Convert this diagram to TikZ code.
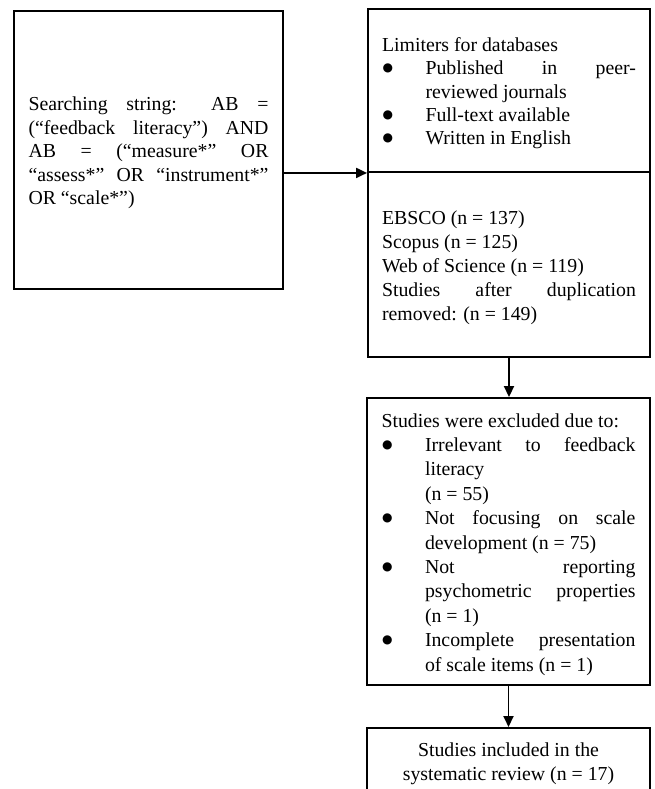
\documentclass[tikz,border=0pt]{standalone}
\usepackage{fontspec}
\setmainfont{Liberation Serif}
\newfontfamily\symfont{DejaVu Sans}
\usetikzlibrary{arrows.meta}
\newcommand\boxfont{\fontsize{19.8}{23.4}\selectfont\parindent=0pt\tolerance=10000\hbadness=10000\hyphenpenalty=10000}
\newcommand\topgap{\rule{0pt}{19.5pt}}
\newcommand\bitem{\hangindent=43.5pt\hangafter=0\leavevmode\llap{\makebox[43.5pt][l]{\hspace{0.5pt}\raisebox{3pt}{\symfont\fontsize{12}{12}\selectfont ●}}}}
\tikzset{
  box/.style={draw, line width=1.9pt, inner sep=0pt, font=\boxfont, align=justify},
  arr/.style={line width=1.9pt, -{Triangle[length=11pt,width=10pt]}},
}
\begin{document}
\begin{tikzpicture}[x=1pt,y=-1pt]
  \useasboundingbox (0,0) rectangle (655,789);
  \node[box, text width=240pt, minimum width=269pt, minimum height=278pt] (search) at (148.5,150)
    {\topgap Searching string: AB =\linebreak (“feedback literacy”) AND\linebreak AB = (“measure*” OR\linebreak “assess*” OR “instrument*”\linebreak OR “scale*”)\par};
  \node[box, text width=254pt, minimum width=282pt, minimum height=163pt] (lim) at (509,90.5)
    {\topgap Limiters for databases\par
     \bitem Published in peer-\linebreak reviewed journals\par
     \bitem Full-text available\par
     \bitem Written in English\par};
  \node[box, font={\boxfont\baselineskip=24pt}, text width=254pt, minimum width=282pt, minimum height=185pt] (db) at (509,264.5)
    {\topgap EBSCO (n = 137)\par
     Scopus (n = 125)\par
     Web of Science (n = 119)\par
     Studies after duplication\linebreak removed: (n = 149)\par};
  \node[box, font={\boxfont\baselineskip=24.4pt}, text width=254pt, minimum width=283pt, minimum height=287pt] (excl) at (508.5,541.5)
    {\topgap Studies were excluded due to:\par
     \bitem Irrelevant to feedback\linebreak literacy\newline (n = 55)\par
     \bitem Not focusing on scale\linebreak development (n = 75)\par
     \bitem Not reporting\linebreak psychometric properties\linebreak (n = 1)\par
     \bitem Incomplete presentation\linebreak of scale items (n = 1)\par};
  \node[box, align=center, font={\boxfont\baselineskip=24pt}, minimum width=283pt, minimum height=68pt, anchor=north] (incl) at (508.5,727)
    {\rule{0pt}{17.5pt}Studies included in the\\systematic review (n = 17)};
  \draw[arr] (search.east |- lim.south) -- (lim.south west);
  \draw[arr] (db.south) -- (db.south |- excl.north);
  \draw[arr] (excl.south) -- (excl.south |- incl.north);
\end{tikzpicture}
\end{document}
